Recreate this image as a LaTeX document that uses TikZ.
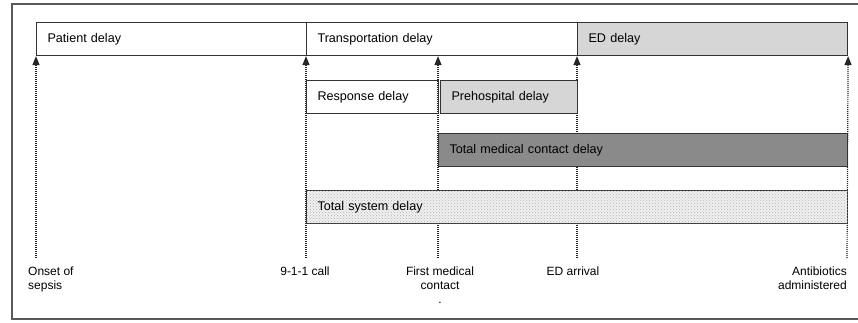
\documentclass[tikz,border=0pt]{standalone}
\usepackage{fontspec}
\setmainfont{Liberation Sans}
\usetikzlibrary{arrows.meta,patterns}

\begin{document}
\begin{tikzpicture}[x=1pt,y=-1pt,font=\fontsize{12}{14}\selectfont]
    \tikzstyle{delay}=[draw=black!80, line width=1.1pt, rectangle, anchor=north west, minimum height=33pt, inner xsep=11pt, inner ysep=0pt, align=left, font=\fontsize{12.6}{15}\selectfont]
    \tikzstyle{event}=[draw=black!85, line width=1.2pt, dash pattern=on 1pt off 1pt, -{Triangle[width=7pt,length=9pt]}]
    \tikzstyle{eventlabel}=[align=left, inner sep=0pt, anchor=north]
    \useasboundingbox (0,0) rectangle (858,322);
    \draw [black!65, line width=1.2pt] (12,4) rectangle (870,319);

    % time points
    \coordinate (t0) at (36,258);
    \coordinate (t1) at (306,258);
    \coordinate (t2) at (438,258);
    \coordinate (t3) at (577,258);
    \coordinate (t4) at (847,258);

    % top row
    \node [delay, text width=248pt] (patient) at (36,22) {Patient delay};
    \node [delay, text width=249pt] (transport) at (306,22) {Transportation delay};
    \node [delay, text width=248pt, fill=black!16] (ed) at (577,22) {ED delay};

    % arrows up to the top row
    \draw [event] (t0) -- (patient.south west);
    \draw [event] (t1) -- (transport.south west);
    \draw [event] (t2) -- (t2 |- transport.south);
    \draw [event] (t3) -- (ed.south west);
    \draw [event] (t4) -- (ed.south east);

    % partial delays
    \node [delay, text width=110pt] (response) at (306,80) {Response delay};
    \node [delay, text width=115pt, fill=black!16] (prehosp) at (440,80) {Prehospital delay};
    \node [delay, text width=387pt, fill=black!46] (medical) at (438,133) {Total medical contact delay};
    \node [delay, text width=519pt, fill=black!6, postaction={pattern=crosshatch dots, pattern color=black!30}] (system) at (306,190) {Total system delay};

    % event labels
    \node [eventlabel, anchor=north west] (onset) at (28,267) {Onset of\\sepsis};
    \node [eventlabel] (call) at (305,267) {9-1-1 call};
    \node [eventlabel, align=center] (contact) at (440,267) {First medical\\contact\\.};
    \node [eventlabel] (arrival) at (573,267) {ED arrival};
    \node [eventlabel, anchor=north east, align=right] (antibiotics) at (847,267) {Antibiotics\\administered};
\end{tikzpicture}
\end{document}
